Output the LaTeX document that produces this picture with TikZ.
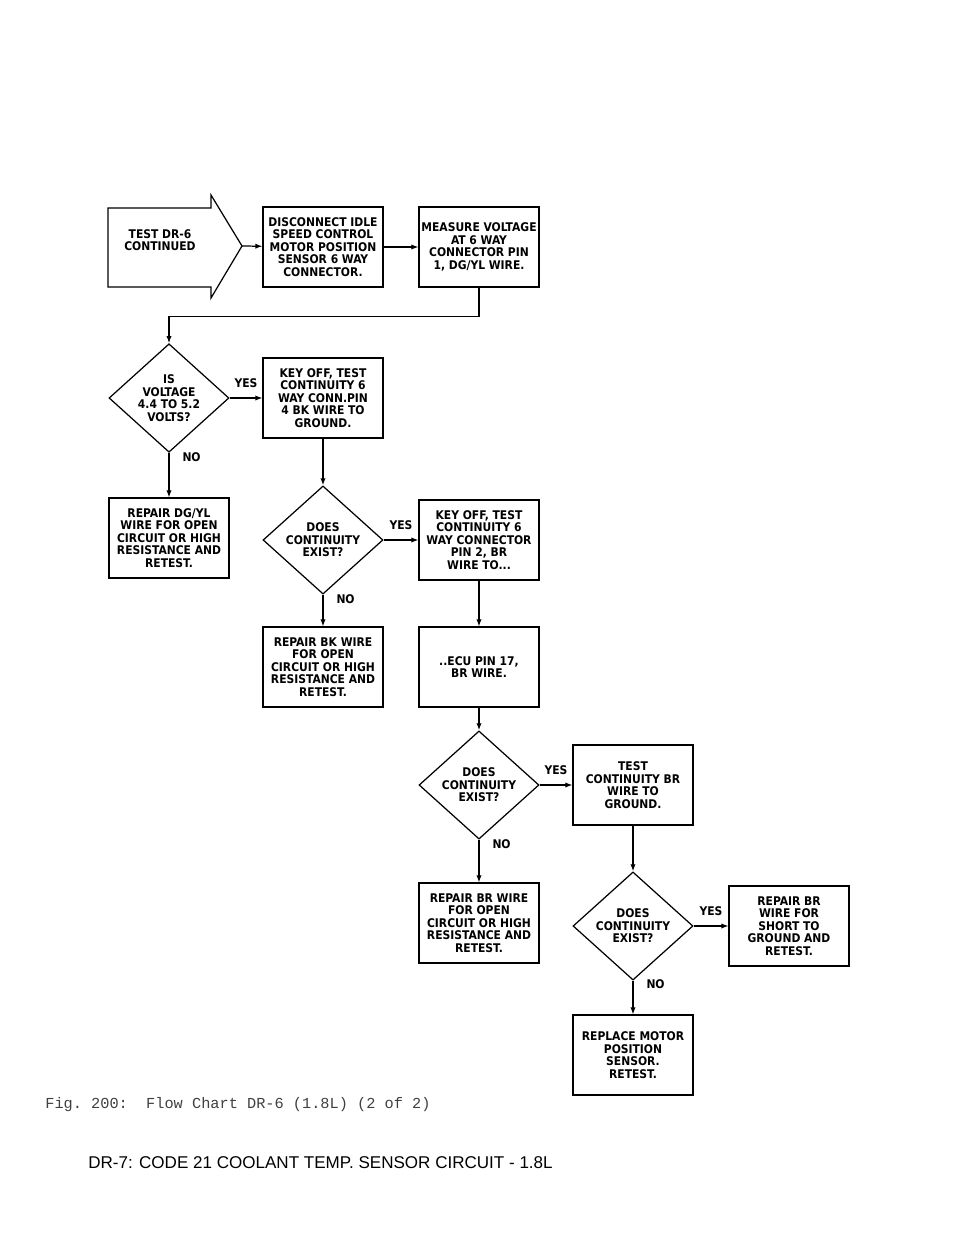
\documentclass[tikz,border=0pt]{standalone}
\usepackage{fontspec}
\setmonofont{Liberation Mono}
\setsansfont{Liberation Sans}
\newfontfamily\chartfont{DejaVu Sans Condensed}
\usetikzlibrary{shapes.geometric,arrows.meta,positioning}

\tikzset{
  stepbox/.style={draw, line width=0.7pt, minimum width=2.4cm, minimum height=1.6cm,
    inner sep=0pt, align=center, font=\chartfont\bfseries\fontsize{6.8}{7.1}\selectfont},
  query/.style={draw, diamond, line width=0.7pt, minimum width=2.4cm, minimum height=2.1cm,
    inner sep=0pt, align=center, font=\chartfont\bfseries\fontsize{6.8}{7.1}\selectfont},
  flow/.style={line width=0.7pt, -{Latex[length=4pt,width=3pt]}},
  tag/.style={font=\chartfont\bfseries\fontsize{6.8}{7.1}\selectfont}
}

\begin{document}
\begin{tikzpicture}[x=0.02cm, y=-0.02cm]
\useasboundingbox (0,0) rectangle (960,1242);

% start block arrow
\draw[line width=0.7pt] (108,208) -- (211,208) -- (211,195) -- (242,246) -- (211,298)
  -- (211,287) -- (108,287) -- cycle;
\node[tag, align=center] (start) at (160,240) {TEST DR-6\\CONTINUED};
\coordinate (tip) at (242,246);

\node[stepbox] (disc) at (323,247) {DISCONNECT IDLE\\SPEED CONTROL\\MOTOR POSITION\\SENSOR 6 WAY\\CONNECTOR.};
\node[stepbox] (meas) at (479,247) {MEASURE VOLTAGE\\AT 6 WAY\\CONNECTOR PIN\\1, DG/YL WIRE.};
\node[query] (volt) at (169,398) {IS\\VOLTAGE\\4.4 TO 5.2\\VOLTS?};
\node[stepbox] (bk) at (323,398) {KEY OFF, TEST\\CONTINUITY 6\\WAY CONN.PIN\\4 BK WIRE TO\\GROUND.};
\node[stepbox] (dgyl) at (169,538) {REPAIR DG/YL\\WIRE FOR OPEN\\CIRCUIT OR HIGH\\RESISTANCE AND\\RETEST.};
\node[query] (cont1) at (323,540) {DOES\\CONTINUITY\\EXIST?};
\node[stepbox] (br) at (479,540) {KEY OFF, TEST\\CONTINUITY 6\\WAY CONNECTOR\\PIN 2, BR\\WIRE TO...};
\node[stepbox] (rbk) at (323,667) {REPAIR BK WIRE\\FOR OPEN\\CIRCUIT OR HIGH\\RESISTANCE AND\\RETEST.};
\node[stepbox] (ecu) at (479,667) {..ECU PIN 17,\\BR WIRE.};
\node[query] (cont2) at (479,785) {DOES\\CONTINUITY\\EXIST?};
\node[stepbox] (gnd) at (633,785) {TEST\\CONTINUITY BR\\WIRE TO\\GROUND.};
\node[stepbox] (rbr) at (479,923) {REPAIR BR WIRE\\FOR OPEN\\CIRCUIT OR HIGH\\RESISTANCE AND\\RETEST.};
\node[query] (cont3) at (633,926) {DOES\\CONTINUITY\\EXIST?};
\node[stepbox] (short) at (789,926) {REPAIR BR\\WIRE FOR\\SHORT TO\\GROUND AND\\RETEST.};
\node[stepbox] (repl) at (633,1055) {REPLACE MOTOR\\POSITION\\SENSOR.\\RETEST.};

% connectors
\draw[flow] (tip) -- (disc);
\draw[flow] (disc) -- (meas);
\draw[flow] (meas.south) -- ++(0,29) -| (volt.north);
\draw[flow] (volt.east) -- node[tag, above=2pt] {YES} (bk.west);
\draw[flow] (volt.south) -- node[tag, right=4pt, pos=0.1] {NO} (dgyl.north);
\draw[flow] (bk.south) -- (cont1.north);
\draw[flow] (cont1.east) -- node[tag, above=2pt] {YES} (br.west);
\draw[flow] (cont1.south) -- node[tag, right=4pt, pos=0.15] {NO} (rbk.north);
\draw[flow] (br.south) -- (ecu.north);
\draw[flow] (ecu.south) -- (cont2.north);
\draw[flow] (cont2.east) -- node[tag, above=2pt] {YES} (gnd.west);
\draw[flow] (cont2.south) -- node[tag, right=4pt, pos=0.1] {NO} (rbr.north);
\draw[flow] (gnd.south) -- (cont3.north);
\draw[flow] (cont3.east) -- node[tag, above=2pt] {YES} (short.west);
\draw[flow] (cont3.south) -- node[tag, right=4pt, pos=0.1] {NO} (repl.north);

% captions
\node[anchor=west, inner sep=0pt, font=\ttfamily\fontsize{8.7}{10}\selectfont, text=black!75] (fig) at (45,1105)
  {Fig. 200:\ \ Flow Chart DR-6 (1.8L) (2 of 2)};
\node[anchor=west, inner sep=0pt, font=\sffamily\fontsize{9.7}{12}\selectfont] (title) at (88,1163)
  {DR-7: CODE 21 COOLANT TEMP. SENSOR CIRCUIT - 1.8L};
\end{tikzpicture}
\end{document}
